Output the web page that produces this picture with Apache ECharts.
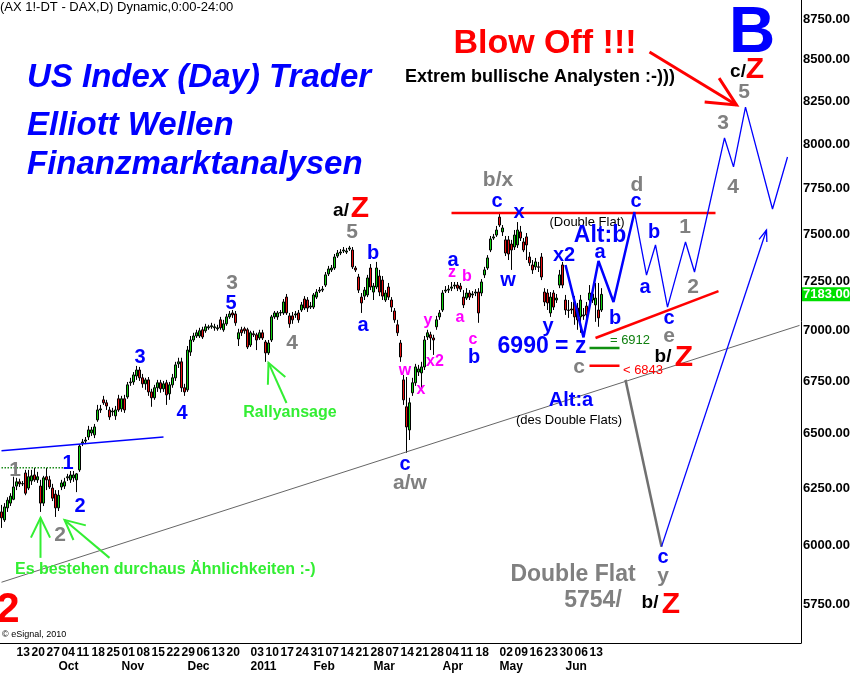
<!DOCTYPE html>
<html>
<head>
<meta charset="utf-8">
<script src="https://cdn.jsdelivr.net/npm/echarts@6/dist/echarts.min.js"></script>
<style>
  html, body { margin: 0; padding: 0; background: #fff; }
  #chart { width: 850px; height: 674px; }
</style>
</head>
<body>
<div id="chart"></div>
<script>
// DAX daily candles, 2010-09-06 .. 2011-06-17  [open, close, low, high]
const candles = [
  [6146,6120,6076,6177],[6111,6168,6102,6185],[6164,6198,6146,6211],[6185,6216,6172,6229],[6202,6257,6198,6303],
  [6261,6280,6243,6298],[6280,6271,6257,6294],[6271,6272,6261,6284],[6320,6229,6220,6334],[6252,6303,6243,6334],
  [6284,6307,6266,6334],[6311,6289,6280,6343],[6289,6303,6275,6325],[6261,6185,6146,6289],[6185,6298,6172,6307],
  [6303,6289,6243,6343],[6289,6257,6248,6307],[6252,6207,6194,6271],[6225,6164,6124,6243],[6164,6220,6150,6243],
  [6257,6275,6243,6289],[6261,6280,6248,6298],[6298,6303,6284,6316],[6289,6311,6275,6329],[6298,6311,6280,6329],
  [6289,6316,6234,6320],[6334,6443,6325,6452],[6457,6462,6443,6476],[6466,6471,6452,6485],[6485,6518,6471,6537],
  [6504,6518,6490,6532],[6495,6532,6480,6546],[6565,6612,6556,6636],[6612,6617,6598,6636],[6660,6646,6636,6679],
  [6646,6631,6612,6660],[6612,6579,6565,6627],[6603,6607,6584,6622],[6584,6612,6565,6631],[6665,6612,6603,6684],
  [6617,6665,6603,6679],[6665,6612,6598,6684],[6674,6732,6665,6746],[6742,6746,6727,6766],[6746,6780,6732,6794],
  [6775,6804,6756,6824],[6804,6766,6751,6819],[6766,6737,6718,6785],[6737,6756,6708,6766],[6756,6698,6679,6770],
  [6698,6670,6627,6713],[6670,6718,6660,6732],[6718,6742,6698,6756],[6742,6713,6694,6756],[6713,6737,6698,6751],
  [6742,6684,6636,6756],[6689,6732,6660,6746],[6732,6766,6718,6785],[6766,6829,6751,6844],[6834,6844,6814,6864],
  [6844,6718,6698,6864],[6718,6698,6679,6737],[6708,6902,6698,6922],[6892,6952,6873,6972],[6952,6972,6942,6988],
  [6972,6988,6962,7003],[6972,6998,6962,7013],[7003,6967,6957,7018],[6998,7018,6988,7033],[7013,7018,7003,7028],
  [7018,7023,7008,7038],[7013,7018,6998,7033],[7008,7013,6998,7028],[7053,7013,7003,7068],[7003,7033,6993,7053],
  [7033,7068,7023,7083],[7068,7083,7058,7098],[7088,7078,7063,7103],[7083,7038,7023,7098],[6957,6988,6922,7008],
  [7003,6988,6972,7018],[7008,6998,6983,7018],[7003,6917,6907,7013],[6927,6988,6917,6998],[6983,6978,6967,6998],
  [6978,6952,6902,6988],[6962,6988,6952,7003],[6988,6962,6952,7003],[6942,6888,6844,6952],[6888,6937,6878,6952],
  [6952,7068,6942,7078],[7068,7088,7058,7098],[7068,7088,7053,7098],[7088,7090,7073,7103],[7088,7144,7078,7159],
  [7169,7088,7078,7185],[7073,7033,7013,7088],[7073,7053,7033,7093],[7078,7083,7063,7098],[7088,7053,7038,7103],
  [7103,7129,7093,7144],[7159,7113,7103,7174],[7154,7113,7093,7169],[7118,7123,7108,7144],[7118,7180,7108,7190],
  [7169,7195,7159,7210],[7200,7205,7190,7221],[7205,7210,7195,7226],[7231,7284,7221,7299],[7289,7315,7278,7331],
  [7310,7320,7299,7336],[7320,7378,7310,7394],[7383,7399,7373,7415],[7399,7404,7388,7420],[7410,7415,7399,7431],
  [7404,7410,7394,7426],[7420,7426,7410,7437],[7415,7326,7315,7431],[7320,7310,7299,7331],[7273,7205,7190,7289],
  [7169,7139,7088,7190],[7174,7205,7154,7221],[7180,7268,7169,7284],[7320,7221,7205,7341],[7195,7226,7154,7242],
  [7221,7320,7210,7352],[7278,7195,7174,7310],[7257,7174,7154,7278],[7154,7190,7144,7205],[7221,7169,7154,7242],
  [7154,7118,7093,7169],[7098,7053,7038,7113],[7028,6988,6972,7053],[6937,6868,6844,6952],[6756,6660,6636,6780],
  [6627,6532,6412,6770],[6518,6646,6471,6670],[6694,6742,6679,6766],[6742,6819,6727,6834],[6794,6809,6775,6829],
  [6790,6819,6718,6844],[6819,6952,6804,6972],[6967,6988,6952,7003],[6978,6962,6902,6993],[6962,6952,6878,6978],
  [7018,7053,7003,7073],[7068,7088,7053,7103],[7103,7190,7093,7205],[7200,7205,7190,7226],[7205,7210,7190,7231],
  [7215,7221,7200,7247],[7226,7231,7210,7247],[7231,7215,7200,7247],[7226,7210,7195,7242],[7169,7129,7113,7205],
  [7164,7190,7154,7215],[7190,7169,7154,7205],[7180,7185,7164,7200],[7190,7195,7174,7210],[7195,7088,7038,7215],
  [7190,7247,7174,7262],[7284,7310,7268,7326],[7320,7373,7310,7388],[7415,7474,7404,7490],[7479,7485,7469,7501],
  [7495,7522,7485,7544],[7592,7549,7538,7620],[7512,7533,7490,7549],[7469,7399,7383,7490],[7469,7394,7362,7490],
  [7447,7415,7310,7469],[7431,7495,7415,7522],[7442,7522,7426,7565],[7512,7479,7463,7544],[7458,7415,7404,7479],
  [7485,7442,7362,7506],[7378,7347,7331,7404],[7336,7310,7289,7362],[7326,7352,7310,7373],[7326,7324,7299,7352],
  [7378,7273,7257,7399],[7195,7144,7123,7215],[7190,7139,7103,7210],[7088,7169,7068,7195],[7190,7118,7103,7205],
  [7154,7164,7139,7185],[7231,7284,7215,7310],[7336,7231,7215,7352],[7154,7103,7078,7180],[7103,7101,7063,7154],
  [7108,7103,7083,7144],[7144,7068,7028,7174],[7113,7053,7003,7139],[7068,7154,6988,7180],[7078,7073,7053,7113],
  [7123,7078,7053,7144],[7154,7190,7129,7231],[7154,7185,7139,7215],[7129,7164,7043,7242],[7103,7063,7018,7242],
  [7103,7183,7093,7215]
];

const firstDay = '2010-09-06';
const holidays = ['2010-12-24', '2010-12-31', '2011-04-22', '2011-04-25'];
const dayCount = 267;                       // trading days incl. projection space
const yTicks = [5750, 6000, 6250, 6500, 6750, 7000, 7250, 7500, 7750, 8000, 8250, 8500, 8750];
const yMin = 5595, yMax = 8870;
const monthNames = ['2011','Feb','Mar','Apr','May','Jun','Jul','Aug','Sep','Oct','Nov','Dec'];

// drawn lines (date, price)
const trendLine   = [['2010-09-06', 5844], ['2011-09-19', 7025]];
const wave1Level  = [['2010-09-06', 6344], ['2010-10-08', 6344]];
const channelTop  = [['2010-09-06', 6421], ['2010-11-19', 6485]];
const flatTop     = [['2011-04-06', 7614], ['2011-08-10', 7614]];
const triangleLow = [['2011-06-15', 6962], ['2011-08-11', 7200]];
const level6912   = [['2011-06-13', 6912], ['2011-06-27', 6912]];
const level6843   = [['2011-06-13', 6825], ['2011-06-27', 6825]];
const altBPath    = [['2011-06-01', 7336], ['2011-06-09', 6965], ['2011-06-16', 7357], ['2011-06-23', 7144], ['2011-07-04', 7620]];
const mainPath    = [['2011-07-04', 7620], ['2011-07-08', 7283], ['2011-07-13', 7442], ['2011-07-19', 7118], ['2011-07-27', 7458],
                     ['2011-08-01', 7299], ['2011-08-15', 8035], ['2011-08-18', 7870], ['2011-08-24', 8215], ['2011-09-06', 7636],
                     ['2011-09-13', 7926]];
const altAPath    = [['2011-06-29', 6756], ['2011-07-15', 5995]];

// arrows: from, to, style
const arrows = [
  [['2010-09-23', 5947], ['2010-09-23', 6120], 'green'],
  [['2010-10-26', 5947], ['2010-10-05', 6111], 'green'],
  [['2011-01-19', 6645], ['2011-01-11', 6839], 'green'],
  [['2011-07-11', 8545], ['2011-08-19', 8227], 'red'],
  [['2011-07-15', 5995], ['2011-09-02', 7522], 'blue']
];

const L = Math.log;

// trading-day calendar
const dates = [];
(function () {
  const d = new Date(firstDay + 'T00:00:00Z');
  while (dates.length < dayCount) {
    const s = d.toISOString().slice(0, 10);
    const wd = d.getUTCDay();
    if (wd !== 0 && wd !== 6 && holidays.indexOf(s) < 0) dates.push(s);
    d.setUTCDate(d.getUTCDate() + 1);
  }
})();

const lastIdx = candles.length - 1;
const weekIdx = new Set();
const monthIdx = new Set();
let prevWeek = -10;
dates.forEach((s, i) => {
  if (i === 0 || i > lastIdx) return;
  const wd = new Date(s + 'T00:00:00Z').getUTCDay();
  if (wd === 1 && i - prevWeek >= 5) { weekIdx.add(i); prevWeek = i; }
  if (s.slice(5, 7) !== dates[i - 1].slice(5, 7)) monthIdx.add(i);
});

const FONT = '"Liberation Sans", Arial, sans-serif';

const lineStyles = {
  trend:  { color: '#666666', width: 1 },
  wave1:  { color: '#1a8a1a', width: 1.5, type: 'dotted' },
  chan:   { color: '#0000ff', width: 1.5 },
  flat:   { color: '#ff0000', width: 2.5 },
  tri:    { color: '#ff0000', width: 2.5 },
  l6912:  { color: '#109010', width: 2.5 },
  l6843:  { color: '#ff0000', width: 2.5 },
  altB:   { color: '#0000ff', width: 2.5 },
  main:   { color: '#0000ff', width: 1.3 },
  altA:   { color: '#707070', width: 2.5 }
};

function lineSeries(pts, key) {
  return {
    type: 'line', data: pts.map(p => [p[0], L(p[1])]), showSymbol: false, symbol: 'none',
    silent: true, animation: false, z: 5, lineStyle: lineStyles[key]
  };
}

const chart = echarts.init(document.getElementById('chart'), null, { renderer: 'canvas' });

const option = {
  animation: false,
  backgroundColor: '#ffffff',
  grid: { left: 0, right: 49, top: 0, bottom: 31, containLabel: false, outerBoundsMode: 'none' },
  xAxis: [
    {
      type: 'category', data: dates, boundaryGap: true,
      axisLine: { lineStyle: { color: '#000', width: 1 } },
      axisTick: { show: false },
      splitLine: { show: false },
      axisLabel: {
        interval: (i) => weekIdx.has(i),
        formatter: (v) => v.slice(8, 10),
        align: 'left', margin: 4, color: '#000', fontSize: 12, fontWeight: 'bold', fontFamily: FONT
      }
    },
    {
      type: 'category', data: dates, boundaryGap: true, position: 'bottom', offset: 14,
      axisLine: { show: false }, axisTick: { show: false }, splitLine: { show: false },
      axisLabel: {
        interval: (i) => monthIdx.has(i),
        formatter: (v) => v.slice(5, 7) === '01' ? v.slice(0, 4) : monthNames[(+v.slice(5, 7)) - 1],
        align: 'left', margin: 4, color: '#000', fontSize: 12, fontWeight: 'bold', fontFamily: FONT
      }
    }
  ],
  yAxis: {
    type: 'value', position: 'right', min: L(yMin), max: L(yMax), scale: true,
    axisLine: { show: true, lineStyle: { color: '#000', width: 1 } },
    axisTick: { show: false },
    splitLine: { show: false },
    axisLabel: {
      customValues: yTicks.map(L),
      formatter: (v) => Math.exp(v).toFixed(2),
      margin: 2, color: '#000', fontSize: 13, fontWeight: 'bold', fontFamily: FONT
    }
  },
  series: [
    {
      type: 'candlestick',
      data: candles.map(r => r.map(L)),
      barWidth: 3,
      z: 3,
      itemStyle: { color: '#10d010', color0: '#e81010', borderColor: '#000', borderColor0: '#000', borderWidth: 1 }
    },
    lineSeries(trendLine, 'trend'),
    lineSeries(wave1Level, 'wave1'),
    lineSeries(channelTop, 'chan'),
    lineSeries(flatTop, 'flat'),
    lineSeries(triangleLow, 'tri'),
    lineSeries(level6912, 'l6912'),
    lineSeries(level6843, 'l6843'),
    lineSeries(altBPath, 'altB'),
    lineSeries(mainPath, 'main'),
    lineSeries(altAPath, 'altA')
  ]
};
chart.setOption(option);

// ---- text annotations (pixel layout) ----
const noteStyles = {
  head:  { font: '13px ' + FONT, fill: '#000', align: 'left' },
  title: { font: 'italic bold 33px ' + FONT, fill: '#0000ff', align: 'left' },
  blow:  { font: 'bold 34px ' + FONT, fill: '#ff0000', align: 'center' },
  extr:  { font: 'bold 18px ' + FONT, fill: '#000', align: 'center' },
  bigB:  { font: 'bold 64px ' + FONT, fill: '#0000ff', align: 'center' },
  G:     { font: 'bold 21px ' + FONT, fill: '#808080', align: 'center' },
  G24:   { font: 'bold 23px ' + FONT, fill: '#808080', align: 'center' },
  B:     { font: 'bold 20px ' + FONT, fill: '#0000ff', align: 'center' },
  B24:   { font: 'bold 23px ' + FONT, fill: '#0000ff', align: 'center' },
  M:     { font: 'bold 16px ' + FONT, fill: '#ff00ff', align: 'center' },
  K:     { font: 'bold 19px ' + FONT, fill: '#000', align: 'center' },
  Z:     { font: 'bold 30px ' + FONT, fill: '#ff0000', align: 'center' },
  S:     { font: '13px ' + FONT, fill: '#000', align: 'center' },
  sG:    { font: '13px ' + FONT, fill: '#108010', align: 'center' },
  sR:    { font: '13px ' + FONT, fill: '#ff0000', align: 'center' },
  lg:    { font: 'bold 16px ' + FONT, fill: '#33ee33', align: 'center' },
  lgL:   { font: 'bold 16px ' + FONT, fill: '#33ee33', align: 'left' },
  red2:  { font: 'bold 42px ' + FONT, fill: '#ff0000', align: 'center' },
  copy:  { font: '9px ' + FONT, fill: '#000', align: 'left' }
};

const notes = [
  ['(AX 1!-DT - DAX,D) Dynamic,0:00-24:00', 0, 7, 'head'],
  ['US Index (Day) Trader', 27, 78, 'title'],
  ['Elliott Wellen', 27, 126, 'title'],
  ['Finanzmarktanalysen', 27, 165, 'title'],
  ['Blow Off !!!', 545, 44, 'blow'],
  ['Extrem bullische Analysten :-)))', 540, 77, 'extr'],
  ['B', 752, 34, 'bigB'],
  ['1', 15, 470, 'G'], ['1', 68, 463, 'B'], ['2', 80, 506, 'B'], ['2', 60, 535, 'G'],
  ['3', 140, 357, 'B'], ['4', 182, 413, 'B'],
  ['3', 232, 283, 'G'], ['5', 231, 303, 'B'], ['4', 292, 343, 'G'],
  ['a/', 341, 211, 'K'], ['Z', 360, 209, 'Z'], ['5', 352, 232, 'G'],
  ['b', 373, 253, 'B'], ['a', 363, 325, 'B'],
  ['c', 405, 464, 'B'], ['a/w', 410, 483, 'G'],
  ['w', 405, 371, 'M'], ['x', 421, 390, 'M'], ['x2', 435, 362, 'M'], ['y', 428, 321, 'M'],
  ['a', 453, 260, 'B'], ['z', 452, 273, 'M'], ['b', 467, 277, 'M'], ['a', 460, 318, 'M'],
  ['c', 473, 340, 'M'], ['b', 474, 357, 'B'],
  ['b/x', 498, 180, 'G'], ['c', 497, 201, 'B'], ['x', 519, 212, 'B'], ['w', 508, 280, 'B'],
  ['(Double Flat)', 587, 222, 'S'], ['Alt:b', 600, 236, 'B24'],
  ['x2', 564, 255, 'B'], ['a', 600, 252, 'B'], ['y', 548, 326, 'B'], ['b', 615, 318, 'B'],
  ['6990 = z', 542, 347, 'B24'], ['c', 579, 367, 'G'],
  ['= 6912', 630, 340, 'sG'], ['< 6843', 643, 370, 'sR'],
  ['b/', 663, 357, 'K'], ['Z', 684, 358, 'Z'],
  ['d', 637, 185, 'G'], ['c', 636, 201, 'B'], ['b', 654, 232, 'B'], ['a', 645, 287, 'B'],
  ['1', 685, 227, 'G'], ['2', 693, 287, 'G'], ['c', 669, 318, 'B'], ['e', 669, 336, 'G'],
  ['3', 723, 123, 'G'], ['4', 733, 187, 'G'], ['5', 744, 92, 'G'],
  ['c/', 738, 72, 'K'], ['Z', 755, 70, 'Z'],
  ['Alt:a', 571, 400, 'B'], ['(des Double Flats)', 569, 420, 'S'],
  ['c', 663, 557, 'B'], ['y', 663, 576, 'G'],
  ['Double Flat', 573, 575, 'G24'], ['5754/', 593, 601, 'G24'],
  ['b/', 650, 603, 'K'], ['Z', 671, 605, 'Z'],
  ['Rallyansage', 290, 413, 'lg'],
  ['Es bestehen durchaus \u00c4hnlichkeiten :-)', 15, 570, 'lgL'],
  ['2', 8, 610, 'red2'],
  ['\u00a9 eSignal, 2010', 2, 635, 'copy']
];

const arrowStyles = {
  green: { color: '#33ee33', width: 2, head: 22, spread: 0.45 },
  red:   { color: '#ff0000', width: 3, head: 32, spread: 0.45 },
  blue:  { color: '#0000ff', width: 1.3, head: 12, spread: 0.35 }
};

const els = [];
notes.forEach(([t, x, y, k]) => {
  const s = noteStyles[k];
  els.push({
    type: 'text', x: x, y: y, z: 20, silent: true,
    style: { text: t, font: s.font, fill: s.fill, align: s.align, verticalAlign: 'middle',
             textAlign: s.align, textVerticalAlign: 'middle' }
  });
});

const toPx = (p) => chart.convertToPixel({ xAxisIndex: 0, yAxisIndex: 0 }, [p[0], L(p[1])]);
arrows.forEach(([from, to, k]) => {
  const st = arrowStyles[k];
  const a = toPx(from), b = toPx(to);
  const ang = Math.atan2(b[1] - a[1], b[0] - a[0]);
  const h1 = [b[0] - st.head * Math.cos(ang - st.spread), b[1] - st.head * Math.sin(ang - st.spread)];
  const h2 = [b[0] - st.head * Math.cos(ang + st.spread), b[1] - st.head * Math.sin(ang + st.spread)];
  els.push({ type: 'polyline', z: 15, silent: true, shape: { points: [a, b] },
             style: { stroke: st.color, lineWidth: st.width, fill: 'none' } });
  els.push({ type: 'polyline', z: 15, silent: true, shape: { points: [h1, b, h2] },
             style: { stroke: st.color, lineWidth: st.width, fill: 'none' } });
});

// last price tag on the price axis
const lastClose = candles[lastIdx][1];
const lastPx = toPx([dates[lastIdx], lastClose]);
els.push({ type: 'rect', z: 25, silent: true, shape: { x: 802, y: lastPx[1] - 7, width: 48, height: 14 },
           style: { fill: '#00e000' } });
els.push({ type: 'text', x: 803, y: lastPx[1], z: 26, silent: true,
           style: { text: lastClose.toFixed(2), font: 'bold 13px ' + FONT, fill: '#fff',
                    align: 'left', verticalAlign: 'middle', textAlign: 'left', textVerticalAlign: 'middle' } });

chart.setOption({ graphic: els });
</script>
</body>
</html>
